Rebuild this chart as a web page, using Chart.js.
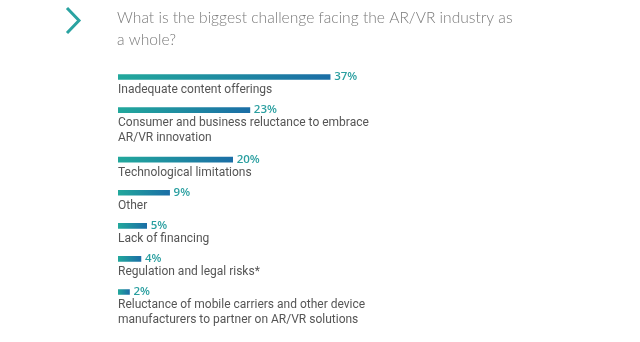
<!DOCTYPE html>
<html>
<head>
<meta charset="utf-8">
<script src="https://cdn.jsdelivr.net/npm/chart.js@4"></script>
<style>
html,body{margin:0;padding:0;background:#fff;}
#wrap{width:640px;height:342px;position:relative;}
</style>
</head>
<body>
<div id="wrap"><canvas id="c" width="640" height="342"></canvas></div>
<script>
const titleLines = ["What is the biggest challenge facing the AR/VR industry as", "a whole?"];
const categories = [
  "Inadequate content offerings",
  "Consumer and business reluctance to embrace\nAR/VR innovation",
  "Technological limitations",
  "Other",
  "Lack of financing",
  "Regulation and legal risks*",
  "Reluctance of mobile carriers and other device\nmanufacturers to partner on AR/VR solutions"
];
const values = [37, 23, 20, 9, 5, 4, 2];
const valueLabels = ["37%", "23%", "20%", "9%", "5%", "4%", "2%"];

// Build slotted category axis: each item takes (lines + 1) slots
const slotLabels = [];
const slotValues = [];
const slotIndex = [];
categories.forEach((c, i) => {
  const lines = c.split("\n").length;
  slotIndex.push(slotLabels.length);
  slotLabels.push(c);
  slotValues.push(values[i]);
  for (let k = 0; k < lines; k++) { slotLabels.push(""); slotValues.push(null); }
});
while (slotLabels.length > slotIndex[slotIndex.length - 1] + 1) { slotLabels.pop(); slotValues.pop(); }

const overlay = {
  id: 'overlay',
  afterDatasetsDraw(chart) {
    const ctx = chart.ctx;
    const meta = chart.getDatasetMeta(0);
    ctx.save();
    ctx.strokeStyle = '#2aa3a1';
    ctx.lineWidth = 3;
    ctx.lineCap = 'butt';
    ctx.lineJoin = 'miter';
    ctx.beginPath();
    ctx.moveTo(67, 8);
    ctx.lineTo(79, 20.5);
    ctx.lineTo(67, 33);
    ctx.stroke();
    ctx.fillStyle = '#7a7a7a';
    ctx.font = '300 15.6px Lato';
    ctx.textBaseline = 'middle';
    ctx.textAlign = 'left';
    titleLines.forEach((t, i) => ctx.fillText(t, 117, 18 + i * 22));
    slotIndex.forEach((si, i) => {
      const bar = meta.data[si];
      const y = bar.y;
      ctx.fillStyle = '#2a9fa0';
      ctx.font = '600 11.5px "Open Sans"';
      ctx.textBaseline = 'middle';
      ctx.fillText(valueLabels[i], bar.x + 4, y);
      ctx.fillStyle = '#555555';
      ctx.font = '12px Roboto';
      categories[i].split("\n").forEach((line, k) => {
        ctx.fillText(line, chart.chartArea.left, y + 13 + k * 15);
      });
    });
    ctx.restore();
  }
};

new Chart(document.getElementById('c'), {
  type: 'bar',
  data: {
    labels: slotLabels,
    datasets: [{
      data: slotValues,
      barThickness: 5,
      borderWidth: 0,
      backgroundColor(context) {
        const chart = context.chart;
        const area = chart.chartArea;
        if (!area) return '#1f95a0';
        const xs = chart.scales.x;
        const v = context.raw;
        if (v == null) return '#1f95a0';
        const x0 = xs.getPixelForValue(0);
        const x1 = xs.getPixelForValue(v);
        const g = chart.ctx.createLinearGradient(x0, 0, x1, 0);
        g.addColorStop(0, '#22a89c');
        g.addColorStop(1, '#1b6ea6');
        return g;
      }
    }]
  },
  options: {
    indexAxis: 'y',
    responsive: false,
    animation: false,
    devicePixelRatio: 1,
    layout: { padding: { left: 118, right: 6, top: 68.7, bottom: 41.7 } },
    scales: {
      x: { type: 'linear', min: 0, max: 90, display: false },
      y: { type: 'category', display: false, offset: true }
    },
    plugins: {
      legend: { display: false },
      tooltip: { enabled: false },
      title: { display: false }
    }
  },
  plugins: [overlay]
});
</script>
</body>
</html>
